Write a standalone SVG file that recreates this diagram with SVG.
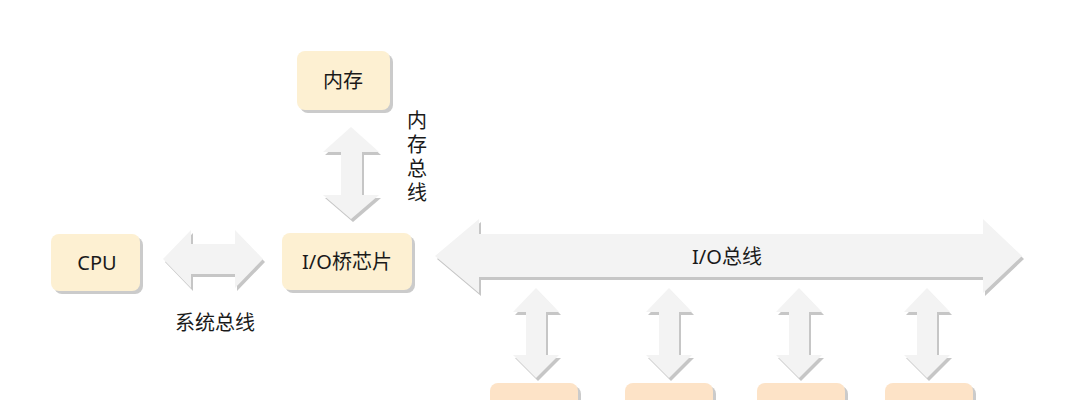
<svg xmlns="http://www.w3.org/2000/svg" width="1077" height="400" viewBox="0 0 1077 400">
  <style>
    .node { fill: #fdf0d2; }
    .nodeOrange { fill: #fde3c7; }
    .shadow { fill: #cbcbcb; }
    .arrow { fill: #f3f3f3; }
    .ashadow { fill: #c6c6c6; }
    .label { font-family: "Noto Sans", "Noto Sans CJK SC", sans-serif; font-size: 20px; fill: #1a1a1a; text-anchor: middle; dominant-baseline: central; }
    .vlabel { font-family: "Noto Sans CJK SC", sans-serif; font-size: 20px; fill: #1a1a1a; writing-mode: vertical-rl; text-anchor: middle; letter-spacing: 4px; }
  </style>
  <defs>
    <path id="vArrowSmall" d="M0,-45 L23,-21 L10,-21 L10,22 L23,22 L0,45 L-23,22 L-10,22 L-10,-21 L-23,-21 Z"/>
  </defs>

  <rect width="1077" height="400" fill="#ffffff"/>

  <g id="connectors">
    <g id="memory-bus">
      <path class="ashadow" transform="translate(2,3)" d="M351,127 L379,152 L362,152 L362,195 L379,195 L351,219 L323,195 L341,195 L341,152 L323,152 Z"/>
      <path class="arrow" d="M351,127 L379,152 L362,152 L362,195 L379,195 L351,219 L323,195 L341,195 L341,152 L323,152 Z"/>
    </g>
    <g id="system-bus">
      <path class="ashadow" transform="translate(2,3)" d="M163,259 L191,230 L191,244 L235,244 L235,230 L263,259 L235,288 L235,274 L191,274 L191,288 Z"/>
      <path class="arrow" d="M163,259 L191,230 L191,244 L235,244 L235,230 L263,259 L235,288 L235,274 L191,274 L191,288 Z"/>
    </g>
    <g id="io-bus">
      <path class="ashadow" transform="translate(2,3)" d="M435,256 L479,219 L479,234 L983,234 L983,219 L1022,256 L983,293 L983,277 L479,277 L479,293 Z"/>
      <path class="arrow" d="M435,256 L479,219 L479,234 L983,234 L983,219 L1022,256 L983,293 L983,277 L479,277 L479,293 Z"/>
    </g>
    <g id="device-links">
      <use href="#vArrowSmall" class="ashadow" transform="translate(538,336)"/>
      <use href="#vArrowSmall" class="arrow" transform="translate(536,333)"/>
      <use href="#vArrowSmall" class="ashadow" transform="translate(671,336)"/>
      <use href="#vArrowSmall" class="arrow" transform="translate(669,333)"/>
      <use href="#vArrowSmall" class="ashadow" transform="translate(801,336)"/>
      <use href="#vArrowSmall" class="arrow" transform="translate(799,333)"/>
      <use href="#vArrowSmall" class="ashadow" transform="translate(929,336)"/>
      <use href="#vArrowSmall" class="arrow" transform="translate(927,333)"/>
    </g>
    <text class="label" x="215" y="322">系统总线</text>
    <text class="vlabel" x="417" y="158">内存总线</text>
    <text class="label" x="727" y="256">I/O总线</text>
  </g>

  <g id="node-memory">
    <rect class="shadow" x="300" y="54" width="93" height="59" rx="8"/>
    <rect class="node" x="297" y="51" width="93" height="59" rx="8"/>
    <text class="label" x="343" y="80">内存</text>
  </g>

  <g id="node-cpu">
    <rect class="shadow" x="54" y="237" width="89" height="57" rx="8"/>
    <rect class="node" x="51" y="234" width="89" height="57" rx="8"/>
    <text class="label" x="97" y="262">CPU</text>
  </g>

  <g id="node-bridge">
    <rect class="shadow" x="285" y="236" width="130" height="57" rx="8"/>
    <rect class="node" x="282" y="233" width="130" height="57" rx="8"/>
    <text class="label" x="347" y="261">I/O桥芯片</text>
  </g>

  <g id="node-dev1">
    <rect class="shadow" x="493" y="386" width="88" height="40" rx="8"/>
    <rect class="nodeOrange" x="490" y="383" width="88" height="40" rx="8"/>
  </g>
  <g id="node-dev2">
    <rect class="shadow" x="628" y="386" width="88" height="40" rx="8"/>
    <rect class="nodeOrange" x="625" y="383" width="88" height="40" rx="8"/>
  </g>
  <g id="node-dev3">
    <rect class="shadow" x="760" y="386" width="88" height="40" rx="8"/>
    <rect class="nodeOrange" x="757" y="383" width="88" height="40" rx="8"/>
  </g>
  <g id="node-dev4">
    <rect class="shadow" x="888" y="386" width="88" height="40" rx="8"/>
    <rect class="nodeOrange" x="885" y="383" width="88" height="40" rx="8"/>
  </g>
</svg>
